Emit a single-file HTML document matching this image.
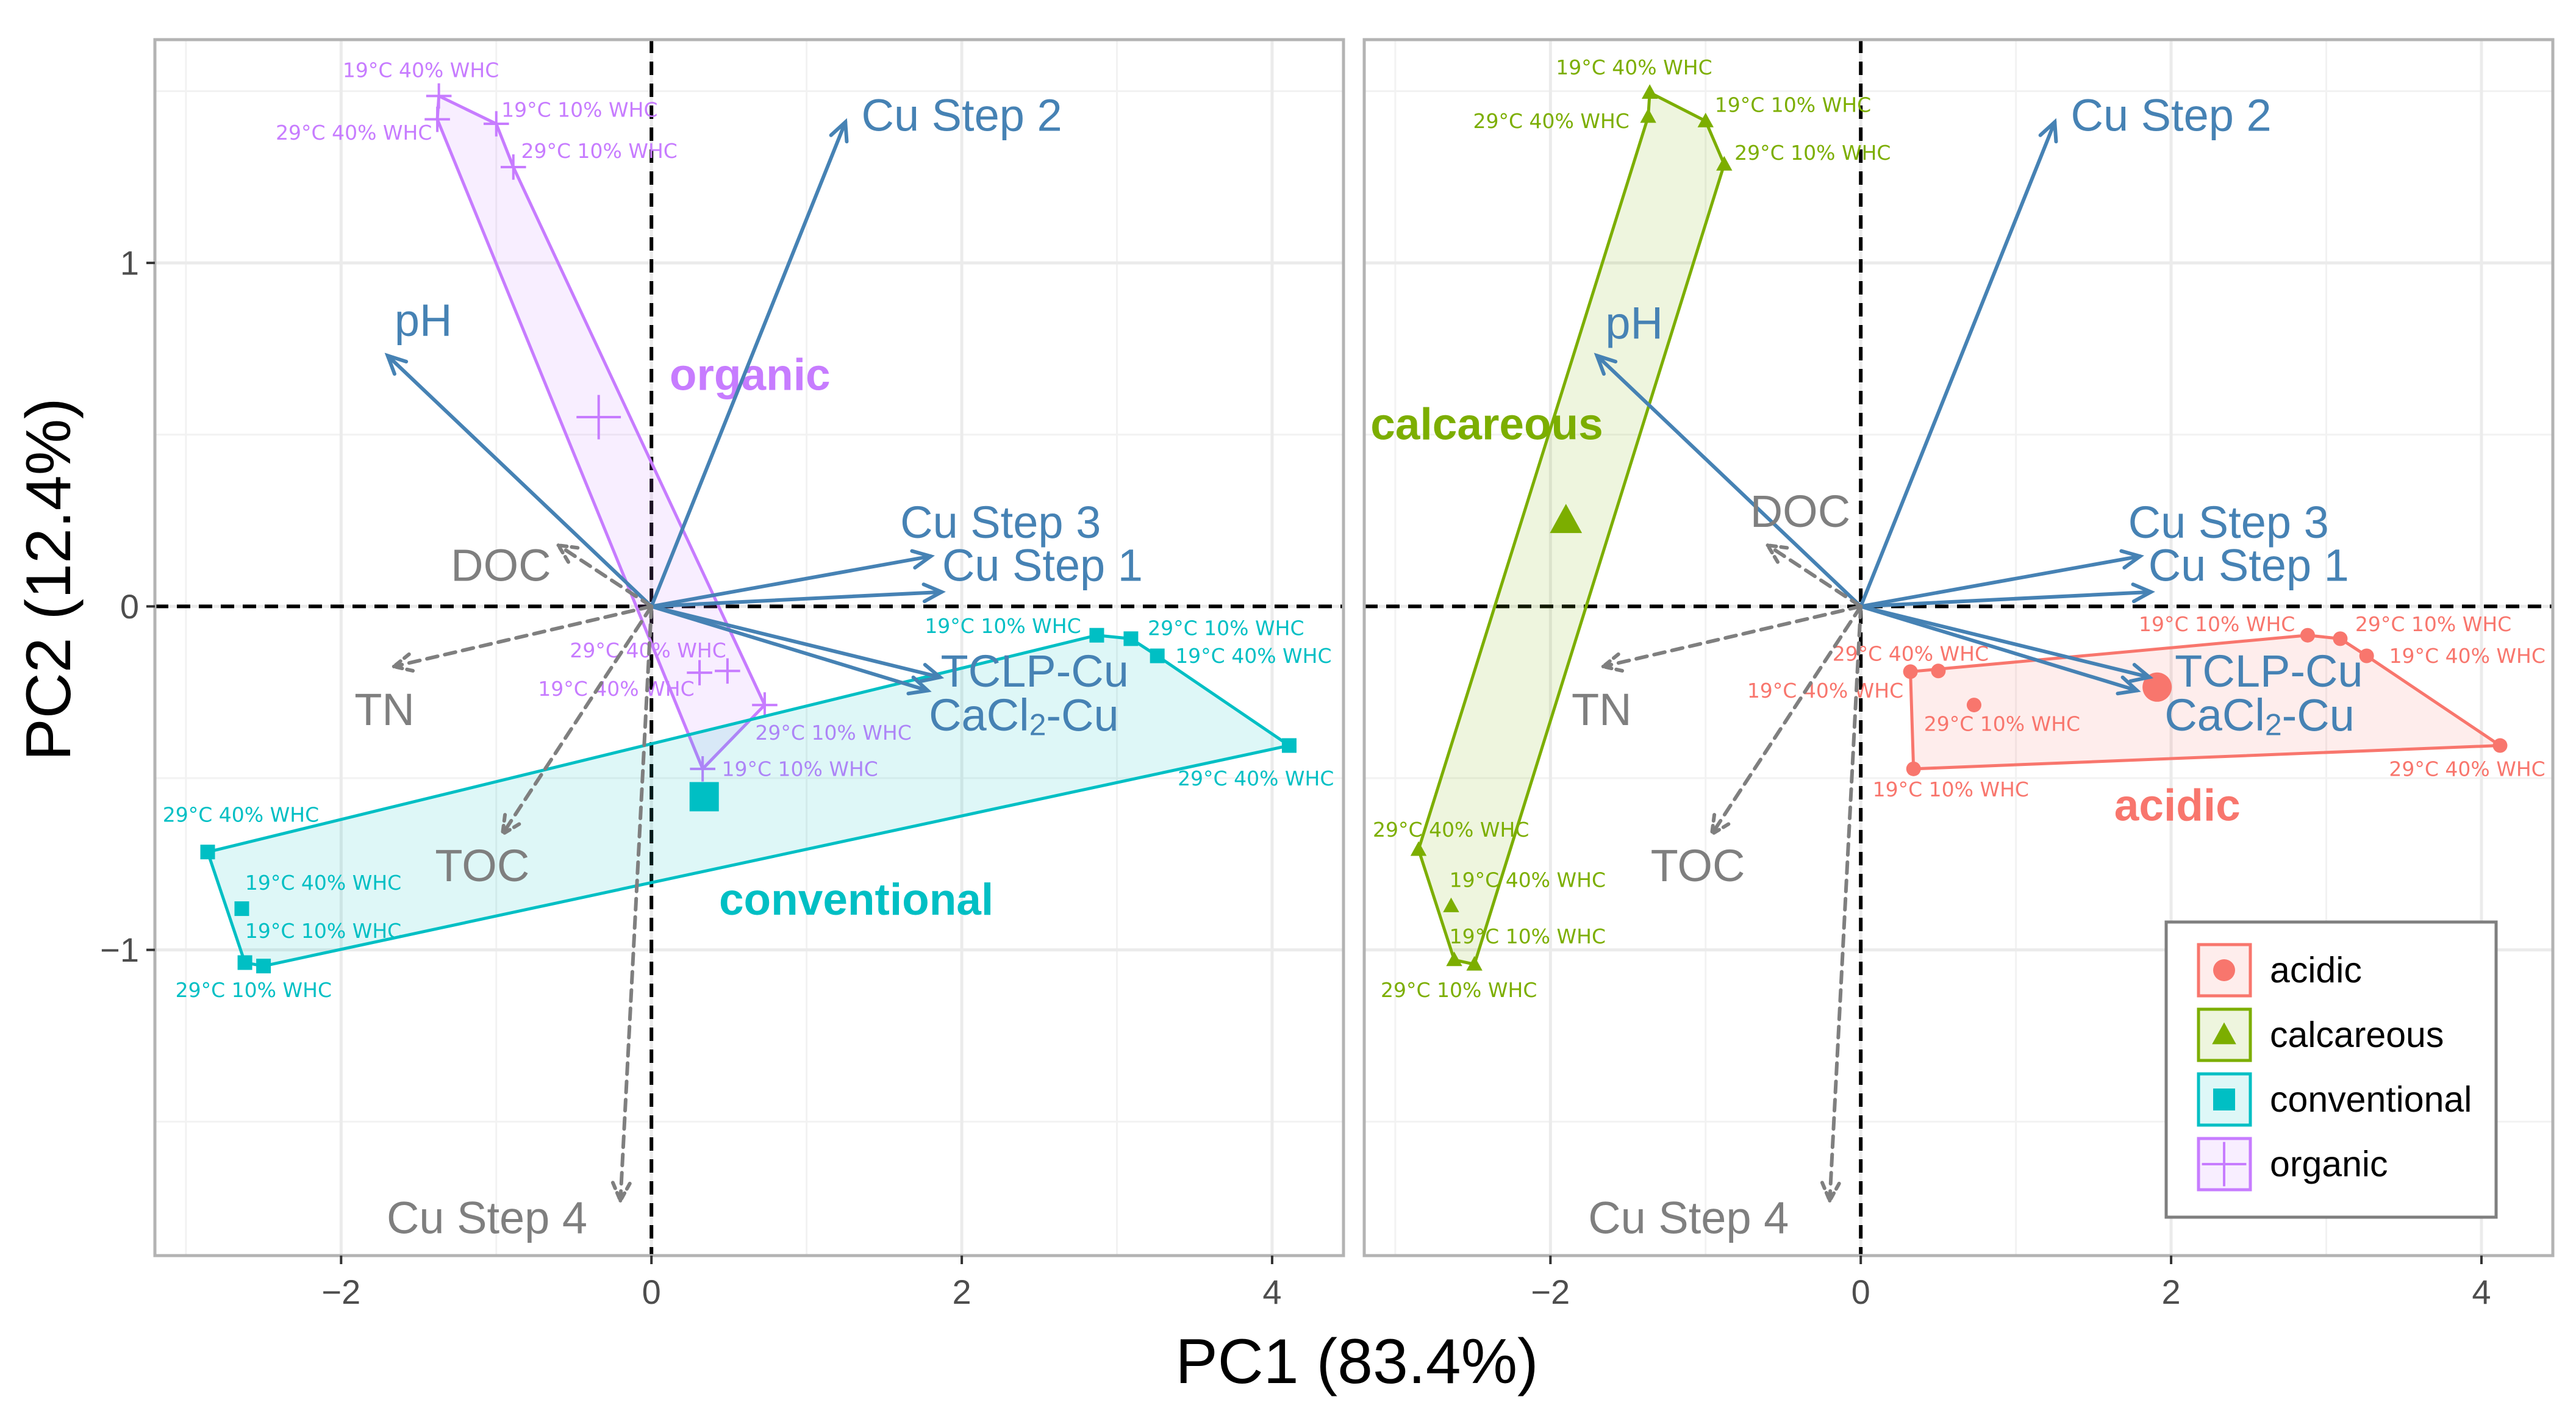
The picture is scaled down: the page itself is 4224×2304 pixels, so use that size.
<!DOCTYPE html>
<html><head><meta charset="utf-8"><style>
html,body{margin:0;padding:0;background:#fff;}
svg{display:block;font-family:"Liberation Sans",sans-serif;}
</style></head><body>
<svg id="chart" width="4224" height="2304" viewBox="0 0 4224 2304" xmlns="http://www.w3.org/2000/svg"></svg>
<script>
// ---- data ----
const arrowNames = ["Cu Step 2","pH","Cu Step 3","Cu Step 1","TCLP-Cu","CaCl2-Cu","DOC","TN","TOC","Cu Step 4"];
const arrowX = [1.25,-1.70,1.80,1.87,1.86,1.78,-0.60,-1.66,-0.96,-0.20];
const arrowY = [1.41,0.73,0.146,0.042,-0.206,-0.245,0.178,-0.175,-0.663,-1.73];
const arrowSupp = [0,0,0,0,0,0,1,1,1,1];
const arrowLabX_L = [2.0,-1.47,2.25,2.52,2.47,2.40,-0.97,-1.72,-1.09,-1.06];
const arrowLabY_L = [1.43,0.833,0.245,0.12,-0.188,-0.316,0.12,-0.30,-0.755,-1.78];
const arrowLabX_R = [2.0,-1.46,2.37,2.50,2.63,2.57,-0.39,-1.67,-1.05,-1.11];
const arrowLabY_R = [1.43,0.825,0.245,0.12,-0.188,-0.316,0.277,-0.30,-0.755,-1.78];

const sampleNames = ["19°C 40% WHC","29°C 40% WHC","19°C 10% WHC","29°C 10% WHC","29°C 40% WHC","19°C 40% WHC","29°C 10% WHC","19°C 10% WHC"];
const organicX = [-1.37,-1.38,-1.00,-0.89,0.31,0.49,0.73,0.33];
const organicY = [1.486,1.418,1.405,1.279,-0.193,-0.188,-0.287,-0.473];
const organicLabX = [-1.486,-1.414,-0.967,-0.840,-0.022,-0.227,0.669,0.453];
const organicLabY = [1.561,1.379,1.446,1.326,-0.128,-0.240,-0.368,-0.473];
const organicAnchor = ["middle","end","start","start","middle","middle","start","start"];
const organicHull = [0,2,3,6,7,1];
const organicCentroid = [-0.34,0.551];

const convNames = ["29°C 40% WHC","19°C 40% WHC","19°C 10% WHC","29°C 10% WHC","19°C 10% WHC","29°C 10% WHC","19°C 40% WHC","29°C 40% WHC"];
const convX = [-2.86,-2.64,-2.62,-2.50,2.87,3.09,3.26,4.11];
const convY = [-0.715,-0.880,-1.037,-1.047,-0.084,-0.094,-0.144,-0.405];
const convLabX = [-2.646,-2.619,-2.619,-2.564,2.265,3.199,3.376,3.895];
const convLabY = [-0.606,-0.804,-0.945,-1.117,-0.057,-0.063,-0.144,-0.501];
const convAnchor = ["middle","start","start","middle","middle","start","start","middle"];
const convHull = [0,4,5,6,7,3,2];
const convCentroid = [0.34,-0.554];

const calcNames = ["19°C 40% WHC","29°C 40% WHC","19°C 10% WHC","29°C 10% WHC","29°C 40% WHC","19°C 40% WHC","19°C 10% WHC","29°C 10% WHC"];
const calcX = [-1.36,-1.37,-1.00,-0.88,-2.85,-2.64,-2.62,-2.49];
const calcY = [1.496,1.426,1.413,1.287,-0.708,-0.872,-1.029,-1.042];
const calcLabX = [-1.461,-1.491,-0.941,-0.814,-2.641,-2.651,-2.651,-2.590];
const calcLabY = [1.569,1.413,1.460,1.321,-0.650,-0.796,-0.961,-1.117];
const calcAnchor = ["middle","end","start","start","middle","start","start","middle"];
const calcHull = [0,2,3,7,6,4,1];
const calcCentroid = [-1.90,0.25];

const acidNames = ["29°C 40% WHC","19°C 40% WHC","29°C 10% WHC","19°C 10% WHC","19°C 10% WHC","29°C 10% WHC","19°C 40% WHC","29°C 40% WHC"];
const acidX = [0.32,0.50,0.73,0.34,2.88,3.09,3.26,4.12];
const acidY = [-0.19,-0.188,-0.287,-0.473,-0.084,-0.094,-0.144,-0.405];
const acidLabX = [0.321,0.275,0.407,0.580,2.295,3.186,3.405,3.908];
const acidLabY = [-0.138,-0.245,-0.342,-0.533,-0.052,-0.052,-0.144,-0.473];
const acidAnchor = ["middle","end","start","middle","middle","start","start","middle"];
const acidHull = [0,4,5,6,7,3];
const acidCentroid = [1.91,-0.235];

const xTicks = [-2,0,2,4];
const yTicks = [-1,0,1];
const xMinor = [-3,-1,1,3];
const yMinor = [-1.5,-0.5,0.5,1.5];
const legendLabels = ["acidic","calcareous","conventional","organic"];

// ---- layout ----
const NS="http://www.w3.org/2000/svg";
const svg=document.getElementById('chart');
const XMIN=-3.20,XMAX=4.46,YMIN=-1.89,YMAX=1.65;
const PW=1949,PT=65,PH=1994;
const COL={acidic:"#F8766D",calcareous:"#7CAE00",conventional:"#00BFC4",organic:"#C77CFF",blue:"#4682B4",grey:"#7F7F7F"};
function el(tag,attrs,parent){const e=document.createElementNS(NS,tag);for(const k in attrs)e.setAttribute(k,attrs[k]);(parent||svg).appendChild(e);return e;}
function makeScales(left){return {x:v=>left+(v-XMIN)/(XMAX-XMIN)*PW,y:v=>PT+(YMAX-v)/(YMAX-YMIN)*PH};}

function marker(g,shape,cx,cy,s,color){
  let m;
  if(shape==="circle"){m=el('circle',{cx:cx,cy:cy,r:s*0.5,fill:color},g);}
  else if(shape==="triangle"){const h=s*0.95;m=el('polygon',{points:`${cx},${cy-h*0.6} ${cx-s*0.55},${cy+h*0.45} ${cx+s*0.55},${cy+h*0.45}`,fill:color},g);}
  else if(shape==="square"){m=el('rect',{x:cx-s/2,y:cy-s/2,width:s,height:s,fill:color},g);}
  else {m=el('path',{d:`M${cx-s*0.65},${cy}H${cx+s*0.65}M${cx},${cy-s*0.65}V${cy+s*0.65}`,stroke:color,'stroke-width':4,fill:'none'},g);}
  return m;
}

function drawGroup(g,sc,name,xs,ys,labX,labY,anch,names,hull,cen,shape,color,gx,gy){
  const grp=el('g',{},g);
  
  
  const pts=hull.map(i=>sc.x(xs[i])+','+sc.y(ys[i])).join(' ');
  const poly=el('polygon',{points:pts,fill:color,'fill-opacity':0.13,stroke:color,'stroke-width':5,'stroke-linejoin':'round'},grp);
  
  
  for(let i=0;i<xs.length;i++){
    const m=marker(grp,shape,sc.x(xs[i]),sc.y(ys[i]),shape==="plus"?32:24,color);
    
    
    const t=el('text',{x:sc.x(labX[i]),y:sc.y(labY[i]),'text-anchor':anch[i],'dominant-baseline':'central',fill:color,'font-size':33,'font-family':'"DejaVu Sans",sans-serif'},grp);
    t.textContent=names[i];
    
    
  }
  const c=marker(grp,shape,sc.x(cen[0]),sc.y(cen[1]),shape==="plus"?56:48,color);
  
  
  const gl=el('text',{x:sc.x(gx),y:sc.y(gy),'text-anchor':'middle','dominant-baseline':'central',fill:color,'font-size':73,'font-weight':'bold'},grp);
  gl.textContent=name;
  
  
}

function drawArrows(g,sc,labX,labY){
  const x0=sc.x(0),y0=sc.y(0);
  for(let i=0;i<arrowNames.length;i++){
    const supp=arrowSupp[i]===1;
    const color=supp?COL.grey:COL.blue;
    const x1=sc.x(arrowX[i]),y1=sc.y(arrowY[i]);
    const a=Math.atan2(y1-y0,x1-x0),L=32,da=0.45;
    const ag=el('g',{},g);
    
    
    const st={stroke:color,'stroke-width':6,fill:'none','stroke-linecap':'round'};
    if(supp)st['stroke-dasharray']='18 12';
    el('line',Object.assign({x1:x0,y1:y0,x2:x1,y2:y1},st),ag);
    el('path',Object.assign({d:`M${x1-L*Math.cos(a-da)},${y1-L*Math.sin(a-da)}L${x1},${y1}L${x1-L*Math.cos(a+da)},${y1-L*Math.sin(a+da)}`},st,{'stroke-dasharray':supp?'10 8':'none'}),ag);
    const t=el('text',{x:sc.x(labX[i]),y:sc.y(labY[i]),'text-anchor':'middle','dominant-baseline':'central',fill:color,'font-size':74},g);
    if(arrowNames[i]==="CaCl2-Cu"){t.textContent="CaCl";const s=el('tspan',{'font-size':50,dy:16},t);s.textContent="2";const s2=el('tspan',{dy:-16},t);s2.textContent="-Cu";}
    else t.textContent=arrowNames[i];
    
    
  }
}

function drawPanel(left,idx){
  const sc=makeScales(left);
  const g=el('g',{});
  
  
  el('rect',{x:left,y:PT,width:PW,height:PH,fill:'#fff'},g);
  xMinor.forEach(v=>el('line',{x1:sc.x(v),x2:sc.x(v),y1:PT,y2:PT+PH,stroke:'#F2F2F2','stroke-width':3},g));
  yMinor.forEach(v=>el('line',{x1:left,x2:left+PW,y1:sc.y(v),y2:sc.y(v),stroke:'#F2F2F2','stroke-width':3},g));
  xTicks.forEach(v=>el('line',{x1:sc.x(v),x2:sc.x(v),y1:PT,y2:PT+PH,stroke:'#EBEBEB','stroke-width':5},g));
  yTicks.forEach(v=>el('line',{x1:left,x2:left+PW,y1:sc.y(v),y2:sc.y(v),stroke:'#EBEBEB','stroke-width':5},g));
  el('line',{x1:sc.x(0),x2:sc.x(0),y1:PT,y2:PT+PH,stroke:'#000','stroke-width':6,'stroke-dasharray':'22 14'},g);
  el('line',{x1:left,x2:left+PW,y1:sc.y(0),y2:sc.y(0),stroke:'#000','stroke-width':6,'stroke-dasharray':'22 14'},g);
  return {sc,g};
}

const L=drawPanel(254,0);
drawGroup(L.g,L.sc,'organic',organicX,organicY,organicLabX,organicLabY,organicAnchor,sampleNames,organicHull,organicCentroid,'plus',COL.organic,0.635,0.674);
drawGroup(L.g,L.sc,'conventional',convX,convY,convLabX,convLabY,convAnchor,convNames,convHull,convCentroid,'square',COL.conventional,1.32,-0.854);
drawArrows(L.g,L.sc,arrowLabX_L,arrowLabY_L);
const R=drawPanel(2237,1);
drawGroup(R.g,R.sc,'calcareous',calcX,calcY,calcLabX,calcLabY,calcAnchor,calcNames,calcHull,calcCentroid,'triangle',COL.calcareous,-2.41,0.53);
drawGroup(R.g,R.sc,'acidic',acidX,acidY,acidLabX,acidLabY,acidAnchor,acidNames,acidHull,acidCentroid,'circle',COL.acidic,2.04,-0.58);
drawArrows(R.g,R.sc,arrowLabX_R,arrowLabY_R);

[L,R].forEach((P,pi)=>{
  const left=pi===0?254:2237;
  el('rect',{x:left,y:PT,width:PW,height:PH,fill:'none',stroke:'#B3B3B3','stroke-width':5});
  xTicks.forEach(v=>{
    el('line',{x1:P.sc.x(v),x2:P.sc.x(v),y1:PT+PH,y2:PT+PH+14,stroke:'#333','stroke-width':4});
    const t=el('text',{x:P.sc.x(v),y:2138,'text-anchor':'middle',fill:'#4D4D4D','font-size':56});
    t.textContent=v<0?'\u2212'+Math.abs(v):String(v);
    
    
  });
});
yTicks.forEach(v=>{
  el('line',{x1:240,x2:254,y1:L.sc.y(v),y2:L.sc.y(v),stroke:'#333','stroke-width':4});
  const t=el('text',{x:228,y:L.sc.y(v),'text-anchor':'end','dominant-baseline':'central',fill:'#4D4D4D','font-size':56});
  t.textContent=v<0?'\u2212'+Math.abs(v):String(v);
  
  
});
const xt=el('text',{x:2225,y:2268,'text-anchor':'middle','font-size':104,fill:'#000'});
xt.textContent='PC1 (83.4%)';


const yt=el('text',{x:0,y:0,'text-anchor':'middle','dominant-baseline':'central','font-size':104,fill:'#000',transform:'translate(80,950) rotate(-90)'});
yt.textContent='PC2 (12.4%)';



const lg=el('g',{});


el('rect',{x:3552,y:1512,width:541,height:484,fill:'#fff',stroke:'#7F7F7F','stroke-width':5},lg);
const lshapes=['circle','triangle','square','plus'];
const lcols=[COL.acidic,COL.calcareous,COL.conventional,COL.organic];
legendLabels.forEach((lab,i)=>{
  const cy=1591+i*106;
  const e=el('g',{},lg);
  
  
  el('rect',{x:3605,y:cy-42,width:85,height:84,fill:lcols[i],'fill-opacity':0.13,stroke:lcols[i],'stroke-width':5},e);
  marker(e,lshapes[i],3647,cy,lshapes[i]==='plus'?56:36,lcols[i]);
  const t=el('text',{x:3722,y:cy,'dominant-baseline':'central','font-size':59,fill:'#000'},e);
  t.textContent=lab;
});
</script>
</body></html>
